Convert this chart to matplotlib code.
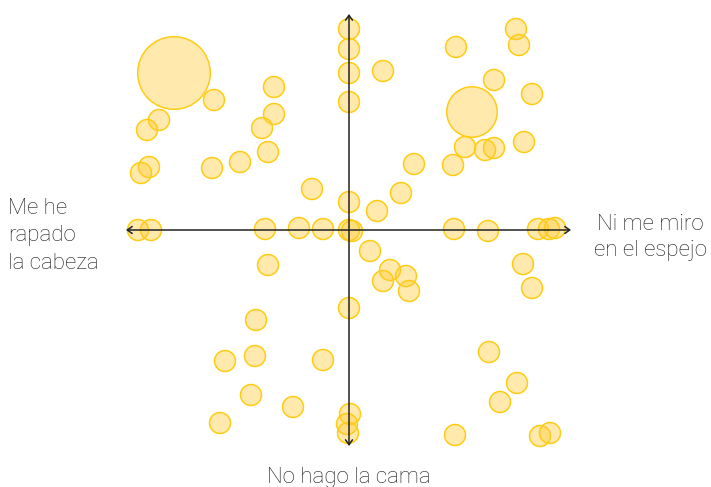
import matplotlib
matplotlib.use("Agg")
import matplotlib.pyplot as plt

# Bubble positions (x: right = "Ni me miro en el espejo", y: down = "No hago la cama")
xs = [-175, -135, -75, -190, -202, -75, -87, -81, -200, -208, -137, -109, -37,
      0, 0, 0, 0, 0, -211, -198, -84, -50, -26, 0, 3,
      167, 170, 107, 34, 145, 183, 123, 175, 116, 136, 145, 104, 65, 52, 28,
      105, 139, 189, 200, 206,
      -81, -93, -124, -94, -26, -98, -56, -129, 0, 1, -2, -1,
      21, 41, 34, 57, 60, 174, 183, 140, 168, 151, 106, 191, 201]
ys = [157, 130, 143, 110, 100, 116, 102, 78, 63, 57, 62, 68, 41,
      201, 181, 157, 128, 28, 0, 0, 1, 2, 1, 0, -1,
      201, 185, 183, 159, 150, 136, 118, 88, 83, 80, 82, 65, 66, 37, 19,
      1, -1, 1, 1, 2,
      -35, -90, -131, -126, -130, -165, -177, -193, -78, -184, -194, -203,
      -21, -40, -51, -46, -61, -34, -58, -122, -153, -172, -205, -206, -203]
sizes = [12, 1, 1, 1, 1, 1, 1, 1, 1, 1, 1, 1, 1,
         1, 1, 1, 1, 1, 1, 1, 1, 1, 1, 1, 1,
         1, 1, 1, 1, 1, 1, 5.8, 1, 1, 1, 1, 1, 1, 1, 1,
         1, 1, 1, 1, 1,
         1, 1, 1, 1, 1, 1, 1, 1, 1, 1, 1, 1,
         1, 1, 1, 1, 1, 1, 1, 1, 1, 1, 1, 1, 1]

label_left = "Me he\nrapado\nla cabeza"
label_right = "Ni me miro\nen el espejo"
label_bottom = "No hago la cama"

W, H = 711, 487
fig = plt.figure(figsize=(W / 100, H / 100), dpi=100)
ax = fig.add_axes([0, 0, 1, 1])
ax.set_xlim(-349, W - 349)
ax.set_ylim(230 - H, 230)
ax.axis("off")

ax.scatter(xs, ys, s=[v * 228 for v in sizes], facecolor=(1.0, 0.79, 0.2, 0.4),
           edgecolor="#FFCC14", linewidth=1.1, zorder=2)

arrow_kw = dict(arrowstyle="<->,head_length=0.35,head_width=0.25", color="#222222",
                lw=1.1, shrinkA=0, shrinkB=0)
ax.annotate("", xy=(222, 0), xytext=(-223, 0), arrowprops=arrow_kw, zorder=3)
ax.annotate("", xy=(0, 216), xytext=(0, -216), arrowprops=arrow_kw, zorder=3)

font = dict(family=["Roboto", "DejaVu Sans"], fontsize=16, fontweight="light",
            color="#1a1a1a")
ax.text(-341, -6, label_left, ha="left", va="center", linespacing=1.42, **font)
ax.text(301, -7.5, label_right, ha="center", va="center", linespacing=1.35, **font)
ax.text(0, -248, label_bottom, ha="center", va="center", **font)

fig.savefig("out.png", dpi=100)
